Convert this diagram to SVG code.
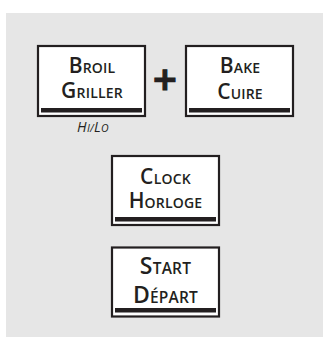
<svg xmlns="http://www.w3.org/2000/svg" width="323" height="339" viewBox="0 0 323 339">
<style>
.box{fill:#fff;stroke:#231f20;stroke-width:2.2}
.bar{fill:#231f20}
.t{font-family:"Open Sans","Liberation Sans",sans-serif;font-weight:600;fill:#231f20;text-anchor:middle;font-size:14px;letter-spacing:0.2px}
.cap{font-size:21px}
.t2{font-size:15.5px}
.cap2{font-size:23px}
.hl{font-family:"Open Sans","Liberation Sans",sans-serif;font-style:italic;fill:#231f20;text-anchor:middle;font-size:10.5px;letter-spacing:0.3px}
.hl .c{font-size:14px}
</style>
<rect x="6" y="13" width="317" height="324" fill="#e6e6e6"/>
<g id="connectors"/>
<g id="broil">
<rect class="box" x="38" y="46" width="107" height="70"/>
<rect class="bar" x="41" y="108" width="101" height="4.5"/>
<text class="t" x="92" y="73"><tspan class="cap">B</tspan>ROIL</text>
<text class="t" x="92" y="98"><tspan class="cap">G</tspan>RILLER</text>
<text class="hl" x="93" y="131.5"><tspan class="c">H</tspan>I/<tspan class="c">L</tspan>O</text>
</g>
<g id="plus">
<text x="165" y="90" font-family="DejaVu Sans" font-weight="bold" font-size="32" fill="#231f20" stroke="#231f20" stroke-width="1.2" text-anchor="middle">+</text>
</g>
<g id="bake">
<rect class="box" x="186" y="46" width="107" height="70"/>
<rect class="bar" x="189" y="108" width="101" height="4.5"/>
<text class="t" x="240" y="73"><tspan class="cap">B</tspan>AKE</text>
<text class="t" x="240" y="99"><tspan class="cap">C</tspan>UIRE</text>
</g>
<g id="clock">
<rect class="box" x="112" y="156" width="107" height="69"/>
<rect class="bar" x="115" y="217" width="101" height="4.5"/>
<text class="t" x="165.5" y="184"><tspan class="cap">C</tspan>LOCK</text>
<text class="t" x="165.5" y="208"><tspan class="cap">H</tspan>ORLOGE</text>
</g>
<g id="start">
<rect class="box" x="112" y="247.5" width="107" height="69"/>
<rect class="bar" x="115" y="308" width="101" height="4.5"/>
<text class="t t2" x="165.5" y="273.5"><tspan class="cap2">S</tspan>TART</text>
<text class="t t2" x="165.5" y="302.5"><tspan class="cap2">D</tspan>ÉPART</text>
</g>
</svg>
